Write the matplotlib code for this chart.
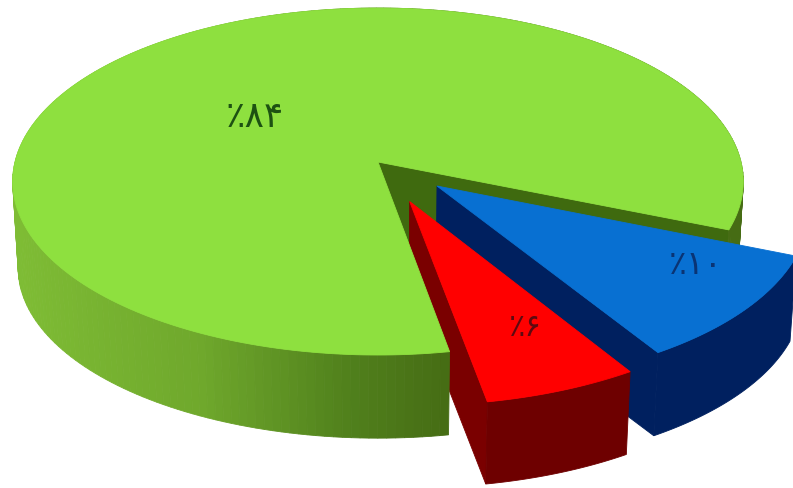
import numpy as np
import matplotlib
matplotlib.use("Agg")
import matplotlib.pyplot as plt
from matplotlib.patches import Polygon

# data
slice_names = ["green", "blue", "red"]
slice_values = [84, 10, 6]
slice_labels = ["٪۸۴", "٪۱۰", "٪۶"]

# style
top_colors = ["#8ee03f", "#0870d2", "#ff0000"]
wall_colors = ["#3f6a0f", "#00205f", "#6e0000"]
label_xy = [(255, 117), (696, 264), (525, 328)]
label_colors = ["#1d5212", "#0a3474", "#5e0a10"]
label_sizes = [26, 24, 22]
START = -22.3  # degrees; green runs counter-clockwise, blue and red clockwise

# projection of the unit disc into the picture (pixels)
CX, CY, A, B, K = 378.0, 162.0, 363.0, 171.3, 0.1125
CY2, SX2, SY2 = 249.0, 0.985, 0.98


def proj(u, v, bottom=False):
    w = 1 + K * v
    if bottom:
        return CX + SX2 * A * u / w, CY2 - SY2 * B * v / w
    return CX + A * u / w, CY - B * v / w


def arc(t0, t1, n=80):
    return np.radians(np.linspace(t0, t1, n))


def ring(thetas, off, bottom=False):
    return [proj(off[0] + np.cos(t), off[1] + np.sin(t), bottom) for t in thetas]


def poly(ax, pts, color):
    ax.add_patch(Polygon(pts, closed=True, facecolor=color, edgecolor=color, lw=0.6))


fig = plt.figure(figsize=(7.93, 4.88), dpi=100)
ax = fig.add_axes([0, 0, 1, 1])
ax.set_xlim(0, 793)
ax.set_ylim(488, 0)
ax.axis("off")

spans = [v / sum(slice_values) * 360 for v in slice_values]
green_range = (START, START + spans[0])
blue_range = (START, START - spans[1])
red_range = (blue_range[1], blue_range[1] - spans[2])

blue_off = (0.16, -0.138)
red_off = (0.085, -0.225)
zero = (0.0, 0.0)

# green inner wall seen through the gap
t = np.radians(START)
poly(ax, [proj(0, 0), proj(np.cos(t), np.sin(t)),
          proj(np.cos(t), np.sin(t), True), proj(0, 0, True)], wall_colors[0])

# blue inner wall (lower-left cut)
t = np.radians(blue_range[1])
poly(ax, [proj(*blue_off), proj(blue_off[0] + np.cos(t), blue_off[1] + np.sin(t)),
          proj(blue_off[0] + np.cos(t), blue_off[1] + np.sin(t), True),
          proj(*blue_off, True)], wall_colors[1])

# red left wall
t = np.radians(red_range[1])
poly(ax, [proj(*red_off), proj(red_off[0] + np.cos(t), red_off[1] + np.sin(t)),
          proj(red_off[0] + np.cos(t), red_off[1] + np.sin(t), True),
          proj(*red_off, True)], "#7a0000")

# green outer wall with a shading along the rim
wall_stops_x = [10, 200, 350, 450]
wall_stops = np.array([[0x7f, 0xbd, 0x35], [0x6f, 0xa8, 0x2c], [0x50, 0x80, 0x1c], [0x46, 0x6c, 0x14]]) / 255
edges = arc(green_range[0], green_range[1], 240)
top_pts = ring(edges, zero)
bot_pts = ring(edges, zero, True)
for i in range(len(edges) - 1):
    xm = (top_pts[i][0] + top_pts[i + 1][0]) / 2
    col = [np.interp(xm, wall_stops_x, wall_stops[:, c]) for c in range(3)]
    poly(ax, [top_pts[i], top_pts[i + 1], bot_pts[i + 1], bot_pts[i]], col)

# green top
poly(ax, [proj(0, 0)] + ring(arc(*green_range, 300), zero), top_colors[0])

# blue outer wall and top
th = arc(*blue_range)
poly(ax, ring(th, blue_off) + ring(th[::-1], blue_off, True), wall_colors[1])
poly(ax, [proj(*blue_off)] + ring(th, blue_off), top_colors[1])

# red outer wall and top
th = arc(*red_range)
poly(ax, ring(th, red_off) + ring(th[::-1], red_off, True), wall_colors[2])
poly(ax, [proj(*red_off)] + ring(th, red_off), top_colors[2])

for s, xy, c, fs in zip(slice_labels, label_xy, label_colors, label_sizes):
    ax.text(xy[0], xy[1], s, color=c, fontsize=fs,
            family=["DejaVu Sans"], ha="center", va="center")

fig.savefig("out.png", dpi=100, facecolor="white")
